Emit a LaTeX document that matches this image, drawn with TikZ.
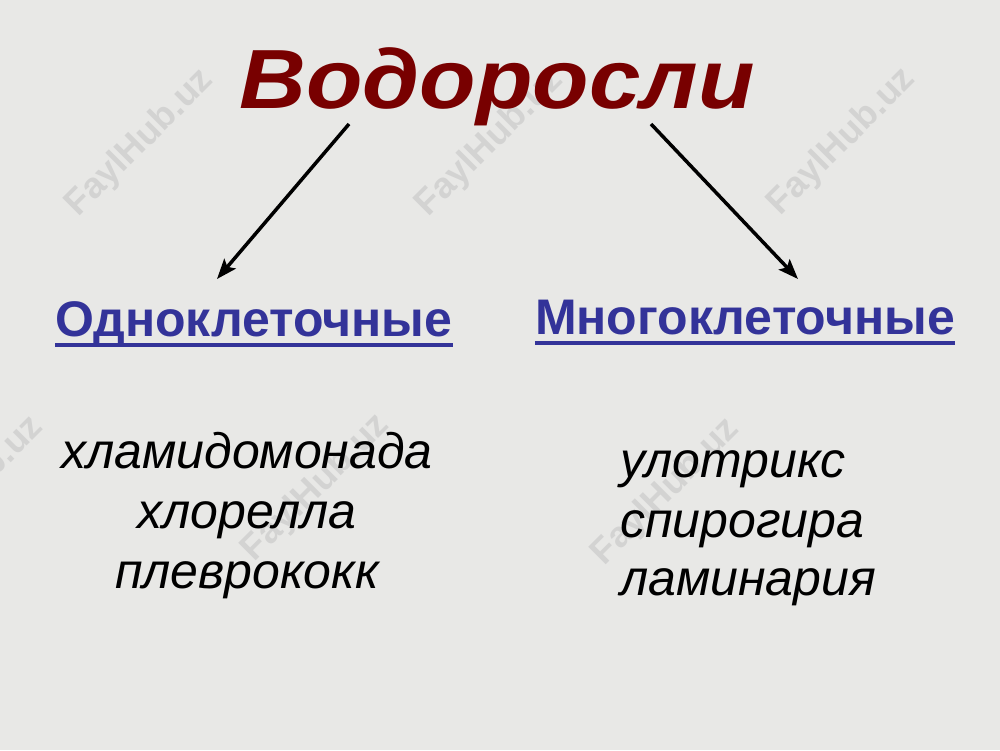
\documentclass[tikz,border=0pt]{standalone}
\usepackage{fontspec}
\setmainfont{Liberation Sans}
\usetikzlibrary{arrows.meta}
\definecolor{bgc}{HTML}{E8E8E6}
\definecolor{titlered}{HTML}{780000}
\definecolor{headblue}{HTML}{333399}
\definecolor{wmark}{HTML}{C8C8C8}
\tikzset{
  titletext/.style={inner sep=0pt, anchor=base, text=titlered, xscale=1.1, font=\fontsize{84}{84}\selectfont\bfseries\itshape},
  headtext/.style={inner sep=0pt, anchor=base, text=headblue, font=\fontsize{50}{50}\selectfont\bfseries},
  headline/.style={draw=headblue, line width=4pt},
  itemtext/.style={inner sep=0pt, anchor=base, text=black, font=\fontsize{50}{50}\selectfont\itshape},
  arrowline/.style={draw=black, line width=3.5pt, -{Stealth[length=20pt,width=15pt,inset=4pt]}},
  watermark/.style={inner sep=0pt, rotate=45, text=wmark, font=\fontsize{36}{36}\selectfont\bfseries, opacity=0.65}
}
\begin{document}
\begin{tikzpicture}[x=1pt,y=-1pt]
\useasboundingbox (0,0) rectangle (1000,750);
\fill[bgc] (0,0) rectangle (1000,750);
% watermarks
\node[watermark] (w1) at (140,143) {FaylHub.uz};
\node[watermark] (w2) at (490,143) {FaylHub.uz};
\node[watermark] (w3) at (842,142) {FaylHub.uz};
\node[watermark] (w4) at (-30,490) {FaylHub.uz};
\node[watermark] (w5) at (316,488) {FaylHub.uz};
\node[watermark] (w6) at (666,492) {FaylHub.uz};
% title
\node[titletext] (title) at (497,108) {Водоросли};
% headings
\node[headtext] (left) at (254,336) {Одноклеточные};
\draw[headline] ([yshift=-9pt]left.base west) -- ([yshift=-9pt]left.base east);
\node[headtext] (right) at (745,334) {Многоклеточные};
\draw[headline] ([yshift=-9pt]right.base west) -- ([yshift=-9pt]right.base east);
% arrows
\coordinate (aLs) at (349,124);
\coordinate (aLe) at (217,279);
\coordinate (aRs) at (651,124);
\coordinate (aRe) at (798,279);
\draw[arrowline] (aLs) -- (aLe);
\draw[arrowline] (aRs) -- (aRe);
% left list
\node[itemtext] (l1) at (247,468) {хламидомонада};
\node[itemtext] (l2) at (247,528) {хлорелла};
\node[itemtext] (l3) at (247,588) {плеврококк};
% right list
\node[itemtext, anchor=base west] (r1) at (620,477) {улотрикс};
\node[itemtext, anchor=base west] (r2) at (620,537) {спирогира};
\node[itemtext, anchor=base west] (r3) at (620,595) {ламинария};
\end{tikzpicture}
\end{document}
